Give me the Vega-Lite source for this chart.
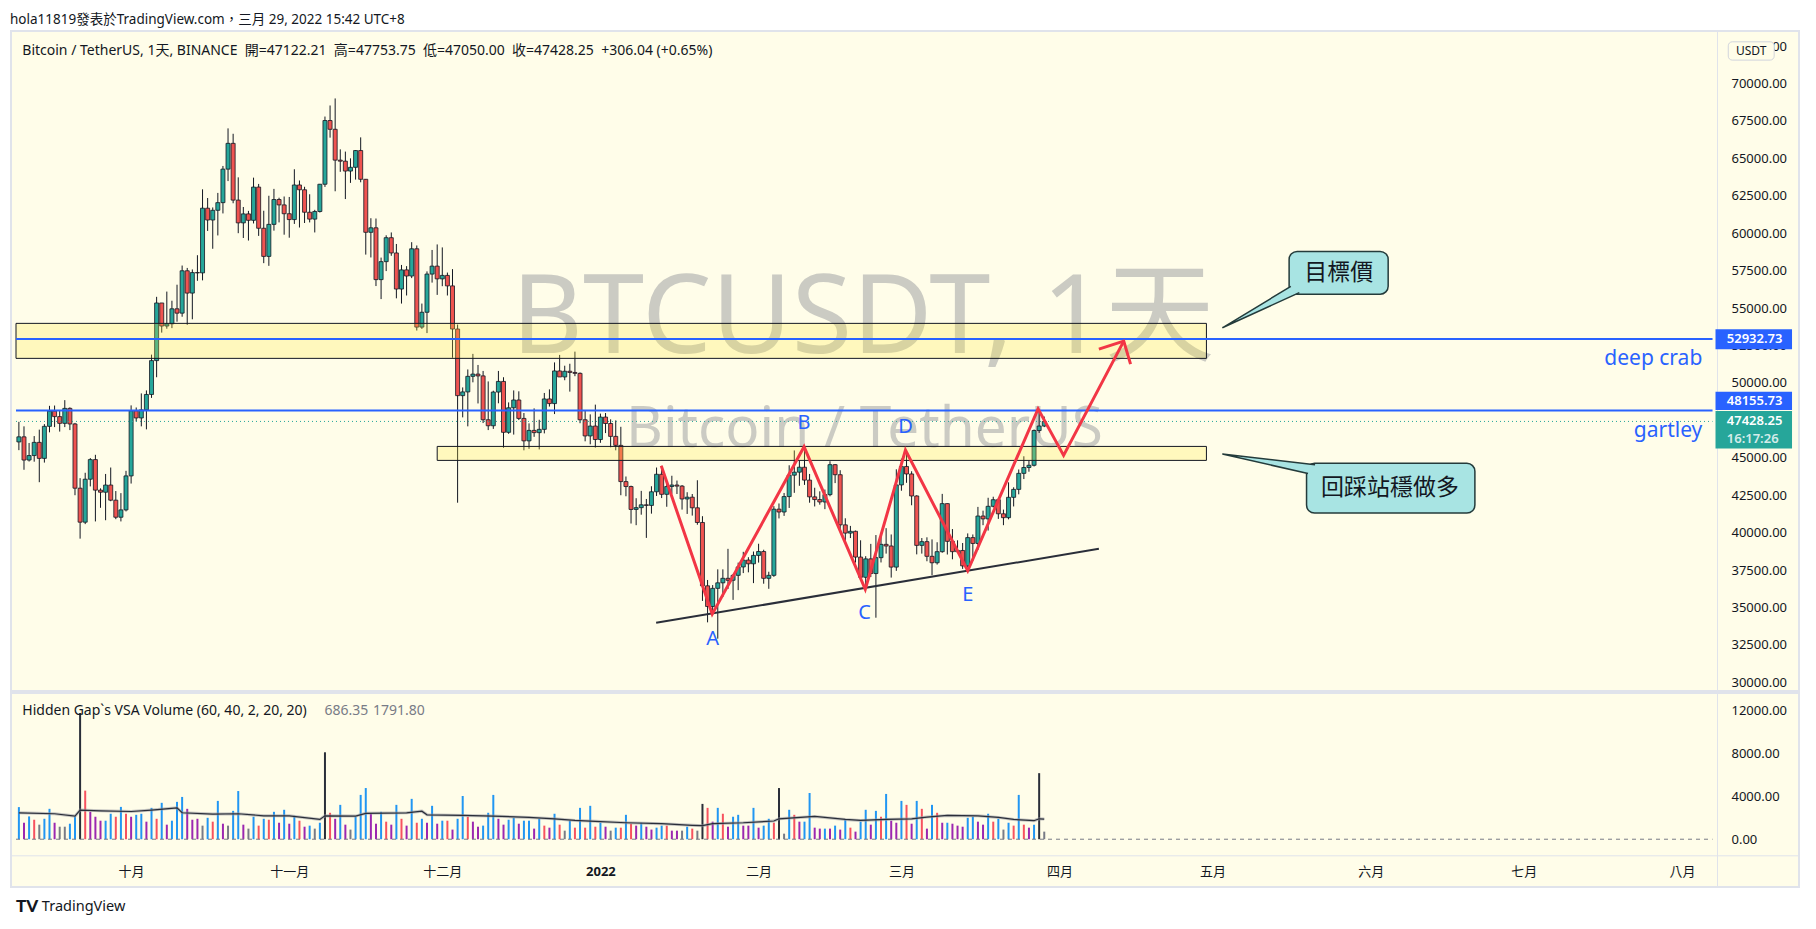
{
  "$schema": "https://vega.github.io/schema/vega-lite/v6.json",
  "background": "#ffffff",
  "padding": {"left": 10, "top": 12, "right": 16, "bottom": 0},
  "title": {"text": "hola11819發表於TradingView.com，三月 29, 2022 15:42 UTC+8", "anchor": "start", "fontSize": 13.5, "fontWeight": "normal", "color": "#131722", "font": "Noto Sans, Noto Sans CJK TC", "offset": 4},
  "spacing": 0,
  "resolve": {"scale": {"x": "independent", "y": "independent", "color": "independent"}},
  "config": {
    "font": "Noto Sans, Noto Sans CJK TC",
    "view": {"fill": "#fffde9", "stroke": "#e0e3eb", "strokeWidth": 2},
    "axis": {"labelFont": "Noto Sans", "labelColor": "#131722", "labelFontSize": 13, "ticks": false, "grid": false, "domainColor": "#e0e3eb", "domainWidth": 1, "labelOverlap": false, "labelBound": false}
  },
  "datasets": {
    "btc": [
      {"d":"2021-09-09","o":46060,"h":47400,"l":45510,"c":46400,"v":3000,"k":"bull"},
      {"d":"2021-09-10","o":46400,"h":47100,"l":44200,"c":44850,"v":1540,"k":"neutral"},
      {"d":"2021-09-11","o":44850,"h":45990,"l":44750,"c":45150,"v":2130,"k":"bull"},
      {"d":"2021-09-12","o":45150,"h":46450,"l":44740,"c":46030,"v":1820,"k":"bear"},
      {"d":"2021-09-13","o":46030,"h":46880,"l":43370,"c":44960,"v":1360,"k":"quiet"},
      {"d":"2021-09-14","o":44960,"h":47250,"l":44680,"c":47100,"v":1910,"k":"bull"},
      {"d":"2021-09-15","o":47100,"h":48470,"l":46700,"c":48120,"v":2840,"k":"bull"},
      {"d":"2021-09-16","o":48120,"h":48490,"l":47050,"c":47750,"v":1540,"k":"neutral"},
      {"d":"2021-09-17","o":47750,"h":48160,"l":46750,"c":47300,"v":1170,"k":"quiet"},
      {"d":"2021-09-18","o":47300,"h":48850,"l":47050,"c":48300,"v":1170,"k":"quiet"},
      {"d":"2021-09-19","o":48300,"h":48370,"l":46850,"c":47260,"v":1450,"k":"bull"},
      {"d":"2021-09-20","o":47260,"h":47330,"l":42500,"c":42970,"v":2130,"k":"bull"},
      {"d":"2021-09-21","o":42970,"h":43640,"l":39600,"c":40700,"v":11790,"k":"climax"},
      {"d":"2021-09-22","o":40700,"h":44000,"l":40570,"c":43570,"v":4540,"k":"bear"},
      {"d":"2021-09-23","o":43570,"h":44980,"l":43090,"c":44880,"v":2560,"k":"neutral"},
      {"d":"2021-09-24","o":44880,"h":45200,"l":40750,"c":42840,"v":2100,"k":"neutral"},
      {"d":"2021-09-25","o":42840,"h":42960,"l":41660,"c":42700,"v":1730,"k":"neutral"},
      {"d":"2021-09-26","o":42700,"h":43920,"l":40830,"c":43180,"v":1730,"k":"bull"},
      {"d":"2021-09-27","o":43180,"h":44350,"l":42100,"c":42170,"v":2380,"k":"bull"},
      {"d":"2021-09-28","o":42170,"h":42780,"l":40900,"c":41030,"v":2100,"k":"bear"},
      {"d":"2021-09-29","o":41030,"h":42640,"l":40750,"c":41520,"v":3020,"k":"bull"},
      {"d":"2021-09-30","o":41520,"h":44130,"l":41420,"c":43790,"v":2380,"k":"bear"},
      {"d":"2021-10-01","o":43790,"h":48500,"l":43280,"c":48140,"v":2100,"k":"neutral"},
      {"d":"2021-10-02","o":48140,"h":48360,"l":47420,"c":47660,"v":2280,"k":"bull"},
      {"d":"2021-10-03","o":47660,"h":49300,"l":47100,"c":48200,"v":2380,"k":"bull"},
      {"d":"2021-10-04","o":48200,"h":49500,"l":46900,"c":49230,"v":1640,"k":"neutral"},
      {"d":"2021-10-05","o":49230,"h":51890,"l":49000,"c":51490,"v":2930,"k":"bull"},
      {"d":"2021-10-06","o":51490,"h":55750,"l":50380,"c":55340,"v":1910,"k":"bear"},
      {"d":"2021-10-07","o":55340,"h":55340,"l":53360,"c":53800,"v":3400,"k":"bull"},
      {"d":"2021-10-08","o":53800,"h":56100,"l":53620,"c":53950,"v":1360,"k":"neutral"},
      {"d":"2021-10-09","o":53950,"h":55490,"l":53660,"c":54950,"v":1730,"k":"bull"},
      {"d":"2021-10-10","o":54950,"h":56560,"l":54090,"c":54660,"v":3490,"k":"bull"},
      {"d":"2021-10-11","o":54660,"h":57840,"l":54420,"c":57490,"v":3950,"k":"bull"},
      {"d":"2021-10-12","o":57490,"h":57680,"l":53880,"c":56000,"v":2840,"k":"neutral"},
      {"d":"2021-10-13","o":56000,"h":57580,"l":54250,"c":57370,"v":1820,"k":"neutral"},
      {"d":"2021-10-14","o":57370,"h":58530,"l":56820,"c":57350,"v":1910,"k":"neutral"},
      {"d":"2021-10-15","o":57350,"h":62930,"l":56850,"c":61670,"v":1270,"k":"quiet"},
      {"d":"2021-10-16","o":61670,"h":62350,"l":60150,"c":60880,"v":2000,"k":"bull"},
      {"d":"2021-10-17","o":60880,"h":61720,"l":58960,"c":61530,"v":1640,"k":"bear"},
      {"d":"2021-10-18","o":61530,"h":62690,"l":59850,"c":62040,"v":3580,"k":"bull"},
      {"d":"2021-10-19","o":62040,"h":64490,"l":61320,"c":64280,"v":1450,"k":"neutral"},
      {"d":"2021-10-20","o":64280,"h":67000,"l":63480,"c":66000,"v":1270,"k":"quiet"},
      {"d":"2021-10-21","o":66000,"h":66640,"l":62000,"c":62210,"v":2650,"k":"bull"},
      {"d":"2021-10-22","o":62210,"h":63730,"l":60000,"c":60690,"v":4500,"k":"bull"},
      {"d":"2021-10-23","o":60690,"h":61750,"l":59680,"c":61290,"v":1360,"k":"neutral"},
      {"d":"2021-10-24","o":61290,"h":61490,"l":59510,"c":60860,"v":990,"k":"quiet"},
      {"d":"2021-10-25","o":60860,"h":63710,"l":60650,"c":63080,"v":2100,"k":"bull"},
      {"d":"2021-10-26","o":63080,"h":63290,"l":59820,"c":60330,"v":1270,"k":"bear"},
      {"d":"2021-10-27","o":60330,"h":61500,"l":58000,"c":58450,"v":1910,"k":"bull"},
      {"d":"2021-10-28","o":58450,"h":62500,"l":57820,"c":60590,"v":1820,"k":"bear"},
      {"d":"2021-10-29","o":60590,"h":62960,"l":60170,"c":62250,"v":2560,"k":"bull"},
      {"d":"2021-10-30","o":62250,"h":62370,"l":60720,"c":61890,"v":1540,"k":"neutral"},
      {"d":"2021-10-31","o":61890,"h":62450,"l":59900,"c":61300,"v":2750,"k":"bull"},
      {"d":"2021-11-01","o":61300,"h":62420,"l":59700,"c":60910,"v":1450,"k":"neutral"},
      {"d":"2021-11-02","o":60910,"h":64270,"l":60620,"c":63220,"v":2190,"k":"bull"},
      {"d":"2021-11-03","o":63220,"h":63520,"l":60380,"c":62900,"v":1730,"k":"bear"},
      {"d":"2021-11-04","o":62900,"h":63100,"l":60680,"c":61400,"v":1170,"k":"neutral"},
      {"d":"2021-11-05","o":61400,"h":62600,"l":60720,"c":60940,"v":1270,"k":"bull"},
      {"d":"2021-11-06","o":60940,"h":61560,"l":60050,"c":61450,"v":990,"k":"quiet"},
      {"d":"2021-11-07","o":61450,"h":63290,"l":61380,"c":63270,"v":1540,"k":"bull"},
      {"d":"2021-11-08","o":63270,"h":67790,"l":63090,"c":67525,"v":8120,"k":"climax"},
      {"d":"2021-11-09","o":67525,"h":68530,"l":66380,"c":66940,"v":2470,"k":"bear"},
      {"d":"2021-11-10","o":66940,"h":69000,"l":62800,"c":64880,"v":1910,"k":"neutral"},
      {"d":"2021-11-11","o":64880,"h":65600,"l":64100,"c":64810,"v":3210,"k":"bull"},
      {"d":"2021-11-12","o":64810,"h":65450,"l":62280,"c":64150,"v":1360,"k":"neutral"},
      {"d":"2021-11-13","o":64150,"h":65000,"l":63360,"c":64400,"v":900,"k":"quiet"},
      {"d":"2021-11-14","o":64400,"h":65550,"l":63580,"c":65520,"v":2100,"k":"bull"},
      {"d":"2021-11-15","o":65520,"h":66400,"l":63400,"c":63600,"v":4140,"k":"bull"},
      {"d":"2021-11-16","o":63600,"h":63620,"l":58570,"c":60060,"v":4780,"k":"bull"},
      {"d":"2021-11-17","o":60060,"h":61000,"l":58380,"c":60360,"v":2420,"k":"neutral"},
      {"d":"2021-11-18","o":60360,"h":60980,"l":56470,"c":56900,"v":1450,"k":"neutral"},
      {"d":"2021-11-19","o":56900,"h":58370,"l":55600,"c":58100,"v":2560,"k":"bull"},
      {"d":"2021-11-20","o":58100,"h":59860,"l":57470,"c":59700,"v":1640,"k":"bear"},
      {"d":"2021-11-21","o":59700,"h":60050,"l":58490,"c":58680,"v":1360,"k":"neutral"},
      {"d":"2021-11-22","o":58680,"h":59280,"l":55650,"c":56270,"v":3210,"k":"bull"},
      {"d":"2021-11-23","o":56270,"h":57880,"l":55300,"c":57550,"v":1910,"k":"bear"},
      {"d":"2021-11-24","o":57550,"h":57800,"l":55840,"c":57140,"v":1270,"k":"neutral"},
      {"d":"2021-11-25","o":57140,"h":59400,"l":57000,"c":58960,"v":3770,"k":"bull"},
      {"d":"2021-11-26","o":58960,"h":59180,"l":53500,"c":53730,"v":1540,"k":"bear"},
      {"d":"2021-11-27","o":53730,"h":55300,"l":53610,"c":54720,"v":1910,"k":"bull"},
      {"d":"2021-11-28","o":54720,"h":57450,"l":53330,"c":57270,"v":1540,"k":"neutral"},
      {"d":"2021-11-29","o":57270,"h":58880,"l":56700,"c":57800,"v":3120,"k":"bull"},
      {"d":"2021-11-30","o":57800,"h":59250,"l":55880,"c":56950,"v":1450,"k":"neutral"},
      {"d":"2021-12-01","o":56950,"h":59050,"l":56460,"c":57180,"v":1730,"k":"bull"},
      {"d":"2021-12-02","o":57180,"h":57370,"l":55840,"c":56480,"v":1730,"k":"bear"},
      {"d":"2021-12-03","o":56480,"h":57600,"l":51680,"c":53600,"v":900,"k":"neutral"},
      {"d":"2021-12-04","o":53600,"h":53900,"l":42000,"c":49150,"v":1910,"k":"bull"},
      {"d":"2021-12-05","o":49150,"h":49700,"l":47700,"c":49400,"v":4040,"k":"bull"},
      {"d":"2021-12-06","o":49400,"h":50900,"l":47100,"c":50440,"v":2100,"k":"bear"},
      {"d":"2021-12-07","o":50440,"h":51940,"l":50040,"c":50590,"v":1640,"k":"neutral"},
      {"d":"2021-12-08","o":50590,"h":51200,"l":48630,"c":50470,"v":1170,"k":"neutral"},
      {"d":"2021-12-09","o":50470,"h":50800,"l":47320,"c":47540,"v":1270,"k":"bull"},
      {"d":"2021-12-10","o":47540,"h":50100,"l":46850,"c":47140,"v":2470,"k":"bull"},
      {"d":"2021-12-11","o":47140,"h":49480,"l":46930,"c":49390,"v":4140,"k":"bull"},
      {"d":"2021-12-12","o":49390,"h":50800,"l":48640,"c":50100,"v":1910,"k":"neutral"},
      {"d":"2021-12-13","o":50100,"h":50380,"l":45670,"c":46700,"v":1360,"k":"neutral"},
      {"d":"2021-12-14","o":46700,"h":48700,"l":46600,"c":48340,"v":1820,"k":"bull"},
      {"d":"2021-12-15","o":48340,"h":49500,"l":46550,"c":48860,"v":2000,"k":"bull"},
      {"d":"2021-12-16","o":48860,"h":49440,"l":47520,"c":47630,"v":1450,"k":"neutral"},
      {"d":"2021-12-17","o":47630,"h":47990,"l":45500,"c":46130,"v":1730,"k":"bull"},
      {"d":"2021-12-18","o":46130,"h":47300,"l":45600,"c":46830,"v":1730,"k":"bull"},
      {"d":"2021-12-19","o":46830,"h":48300,"l":46400,"c":46680,"v":990,"k":"neutral"},
      {"d":"2021-12-20","o":46680,"h":47540,"l":45560,"c":46900,"v":1910,"k":"bull"},
      {"d":"2021-12-21","o":46900,"h":49330,"l":46630,"c":48930,"v":1270,"k":"bear"},
      {"d":"2021-12-22","o":48930,"h":49570,"l":48420,"c":48620,"v":1080,"k":"neutral"},
      {"d":"2021-12-23","o":48620,"h":51370,"l":47920,"c":50800,"v":2380,"k":"bull"},
      {"d":"2021-12-24","o":50800,"h":51870,"l":50400,"c":50400,"v":1360,"k":"bear"},
      {"d":"2021-12-25","o":50400,"h":51150,"l":50180,"c":50780,"v":800,"k":"quiet"},
      {"d":"2021-12-26","o":50780,"h":51280,"l":49420,"c":50700,"v":1730,"k":"bull"},
      {"d":"2021-12-27","o":50700,"h":52090,"l":50450,"c":50640,"v":1080,"k":"bear"},
      {"d":"2021-12-28","o":50640,"h":50700,"l":47310,"c":47540,"v":2930,"k":"bull"},
      {"d":"2021-12-29","o":47540,"h":48140,"l":46100,"c":46460,"v":1080,"k":"bear"},
      {"d":"2021-12-30","o":46460,"h":47900,"l":45900,"c":47120,"v":3120,"k":"bull"},
      {"d":"2021-12-31","o":47120,"h":48550,"l":45680,"c":46220,"v":1170,"k":"bear"},
      {"d":"2022-01-01","o":46220,"h":47950,"l":46000,"c":47720,"v":1540,"k":"bull"},
      {"d":"2022-01-02","o":47720,"h":47990,"l":46650,"c":47290,"v":1170,"k":"neutral"},
      {"d":"2022-01-03","o":47290,"h":47570,"l":45700,"c":46430,"v":800,"k":"quiet"},
      {"d":"2022-01-04","o":46430,"h":47500,"l":45500,"c":45830,"v":1080,"k":"bull"},
      {"d":"2022-01-05","o":45830,"h":47070,"l":42500,"c":43410,"v":1080,"k":"bear"},
      {"d":"2022-01-06","o":43410,"h":43750,"l":42430,"c":43080,"v":2280,"k":"bull"},
      {"d":"2022-01-07","o":43080,"h":43140,"l":40610,"c":41550,"v":1450,"k":"bear"},
      {"d":"2022-01-08","o":41550,"h":42300,"l":40500,"c":41670,"v":1270,"k":"neutral"},
      {"d":"2022-01-09","o":41670,"h":42790,"l":41200,"c":41860,"v":1540,"k":"bull"},
      {"d":"2022-01-10","o":41860,"h":42250,"l":39650,"c":41820,"v":1170,"k":"neutral"},
      {"d":"2022-01-11","o":41820,"h":43100,"l":41270,"c":42730,"v":900,"k":"neutral"},
      {"d":"2022-01-12","o":42730,"h":44350,"l":42450,"c":43900,"v":1080,"k":"bull"},
      {"d":"2022-01-13","o":43900,"h":44460,"l":42310,"c":42560,"v":1270,"k":"bull"},
      {"d":"2022-01-14","o":42560,"h":43450,"l":41730,"c":43080,"v":1270,"k":"bear"},
      {"d":"2022-01-15","o":43080,"h":43800,"l":42600,"c":43180,"v":800,"k":"neutral"},
      {"d":"2022-01-16","o":43180,"h":43480,"l":42580,"c":43110,"v":800,"k":"neutral"},
      {"d":"2022-01-17","o":43110,"h":43180,"l":41540,"c":42250,"v":800,"k":"quiet"},
      {"d":"2022-01-18","o":42250,"h":42700,"l":41250,"c":42370,"v":1170,"k":"bull"},
      {"d":"2022-01-19","o":42370,"h":42580,"l":41140,"c":41660,"v":990,"k":"bear"},
      {"d":"2022-01-20","o":41660,"h":43500,"l":40530,"c":40680,"v":800,"k":"quiet"},
      {"d":"2022-01-21","o":40680,"h":41100,"l":35440,"c":36450,"v":3300,"k":"climax"},
      {"d":"2022-01-22","o":36450,"h":36840,"l":34010,"c":35070,"v":2930,"k":"bear"},
      {"d":"2022-01-23","o":35070,"h":36500,"l":34600,"c":36280,"v":1640,"k":"neutral"},
      {"d":"2022-01-24","o":36280,"h":37550,"l":32920,"c":36650,"v":2930,"k":"bull"},
      {"d":"2022-01-25","o":36650,"h":37550,"l":35700,"c":36950,"v":2380,"k":"bear"},
      {"d":"2022-01-26","o":36950,"h":38920,"l":36240,"c":36820,"v":1170,"k":"neutral"},
      {"d":"2022-01-27","o":36820,"h":37230,"l":35510,"c":37150,"v":2100,"k":"bull"},
      {"d":"2022-01-28","o":37150,"h":38000,"l":36160,"c":37710,"v":2280,"k":"bull"},
      {"d":"2022-01-29","o":37710,"h":38720,"l":37300,"c":38170,"v":1270,"k":"neutral"},
      {"d":"2022-01-30","o":38170,"h":38360,"l":37350,"c":37920,"v":1270,"k":"neutral"},
      {"d":"2022-01-31","o":37920,"h":38740,"l":36630,"c":38480,"v":2930,"k":"bull"},
      {"d":"2022-02-01","o":38480,"h":39260,"l":38000,"c":38740,"v":1080,"k":"neutral"},
      {"d":"2022-02-02","o":38740,"h":38860,"l":36590,"c":36950,"v":1270,"k":"bull"},
      {"d":"2022-02-03","o":36950,"h":37390,"l":36250,"c":37150,"v":1910,"k":"bull"},
      {"d":"2022-02-04","o":37150,"h":41770,"l":37050,"c":41570,"v":1540,"k":"bear"},
      {"d":"2022-02-05","o":41570,"h":41950,"l":40950,"c":41380,"v":4780,"k":"climax"},
      {"d":"2022-02-06","o":41380,"h":42650,"l":41120,"c":42410,"v":520,"k":"quiet"},
      {"d":"2022-02-07","o":42410,"h":44500,"l":41650,"c":43840,"v":2750,"k":"bull"},
      {"d":"2022-02-08","o":43840,"h":45490,"l":42660,"c":44040,"v":2280,"k":"bear"},
      {"d":"2022-02-09","o":44040,"h":44800,"l":43130,"c":44370,"v":1640,"k":"neutral"},
      {"d":"2022-02-10","o":44370,"h":45820,"l":43190,"c":43510,"v":1640,"k":"bull"},
      {"d":"2022-02-11","o":43510,"h":43920,"l":42000,"c":42390,"v":4320,"k":"bull"},
      {"d":"2022-02-12","o":42390,"h":43000,"l":41750,"c":42210,"v":1080,"k":"neutral"},
      {"d":"2022-02-13","o":42210,"h":42760,"l":41870,"c":42050,"v":990,"k":"neutral"},
      {"d":"2022-02-14","o":42050,"h":42880,"l":41570,"c":42540,"v":990,"k":"bull"},
      {"d":"2022-02-15","o":42540,"h":44770,"l":42430,"c":44540,"v":990,"k":"neutral"},
      {"d":"2022-02-16","o":44540,"h":44580,"l":43310,"c":43870,"v":1270,"k":"bull"},
      {"d":"2022-02-17","o":43870,"h":44170,"l":40070,"c":40520,"v":900,"k":"neutral"},
      {"d":"2022-02-18","o":40520,"h":40960,"l":39450,"c":39970,"v":1820,"k":"bull"},
      {"d":"2022-02-19","o":39970,"h":40450,"l":39640,"c":40090,"v":1080,"k":"bear"},
      {"d":"2022-02-20","o":40090,"h":40140,"l":38000,"c":38370,"v":710,"k":"neutral"},
      {"d":"2022-02-21","o":38370,"h":39490,"l":36810,"c":37020,"v":1640,"k":"bull"},
      {"d":"2022-02-22","o":37020,"h":38430,"l":36350,"c":38250,"v":2750,"k":"bull"},
      {"d":"2022-02-23","o":38250,"h":39250,"l":37040,"c":37270,"v":1360,"k":"neutral"},
      {"d":"2022-02-24","o":37270,"h":39840,"l":34320,"c":38330,"v":2650,"k":"bull"},
      {"d":"2022-02-25","o":38330,"h":39730,"l":38010,"c":39220,"v":2100,"k":"bear"},
      {"d":"2022-02-26","o":39220,"h":40300,"l":38600,"c":39110,"v":4230,"k":"bull"},
      {"d":"2022-02-27","o":39110,"h":39880,"l":37000,"c":37700,"v":1730,"k":"neutral"},
      {"d":"2022-02-28","o":37700,"h":44230,"l":37450,"c":43190,"v":1540,"k":"neutral"},
      {"d":"2022-03-01","o":43190,"h":44950,"l":42800,"c":44420,"v":3580,"k":"bull"},
      {"d":"2022-03-02","o":44420,"h":45400,"l":43330,"c":43920,"v":3210,"k":"bear"},
      {"d":"2022-03-03","o":43920,"h":44100,"l":41830,"c":42450,"v":1450,"k":"neutral"},
      {"d":"2022-03-04","o":42450,"h":42500,"l":38550,"c":39150,"v":3580,"k":"bull"},
      {"d":"2022-03-05","o":39150,"h":39640,"l":38600,"c":39400,"v":2840,"k":"bear"},
      {"d":"2022-03-06","o":39400,"h":39690,"l":38090,"c":38420,"v":990,"k":"neutral"},
      {"d":"2022-03-07","o":38420,"h":39550,"l":37160,"c":37990,"v":3210,"k":"bull"},
      {"d":"2022-03-08","o":37990,"h":39360,"l":37870,"c":38730,"v":2470,"k":"bear"},
      {"d":"2022-03-09","o":38730,"h":42590,"l":38660,"c":41940,"v":1540,"k":"neutral"},
      {"d":"2022-03-10","o":41940,"h":41950,"l":38540,"c":39420,"v":1540,"k":"bull"},
      {"d":"2022-03-11","o":39420,"h":40240,"l":38220,"c":38730,"v":1450,"k":"neutral"},
      {"d":"2022-03-12","o":38730,"h":39490,"l":38660,"c":38810,"v":1270,"k":"neutral"},
      {"d":"2022-03-13","o":38810,"h":39310,"l":37580,"c":37780,"v":1170,"k":"neutral"},
      {"d":"2022-03-14","o":37780,"h":39950,"l":37580,"c":39670,"v":2000,"k":"bull"},
      {"d":"2022-03-15","o":39670,"h":39880,"l":38120,"c":39280,"v":2100,"k":"bull"},
      {"d":"2022-03-16","o":39280,"h":41720,"l":38850,"c":41110,"v":1640,"k":"neutral"},
      {"d":"2022-03-17","o":41110,"h":41470,"l":40500,"c":40920,"v":1360,"k":"neutral"},
      {"d":"2022-03-18","o":40920,"h":42330,"l":40140,"c":41760,"v":2380,"k":"bull"},
      {"d":"2022-03-19","o":41760,"h":42400,"l":41680,"c":42200,"v":1640,"k":"bear"},
      {"d":"2022-03-20","o":42200,"h":42300,"l":40920,"c":41260,"v":1910,"k":"bull"},
      {"d":"2022-03-21","o":41260,"h":41540,"l":40500,"c":41000,"v":900,"k":"quiet"},
      {"d":"2022-03-22","o":41000,"h":43360,"l":40890,"c":42360,"v":1540,"k":"bull"},
      {"d":"2022-03-23","o":42360,"h":43030,"l":41750,"c":42890,"v":1270,"k":"bear"},
      {"d":"2022-03-24","o":42890,"h":44220,"l":42560,"c":43960,"v":4140,"k":"bull"},
      {"d":"2022-03-25","o":43960,"h":45100,"l":43580,"c":44350,"v":1360,"k":"bear"},
      {"d":"2022-03-26","o":44350,"h":44820,"l":44070,"c":44500,"v":1080,"k":"neutral"},
      {"d":"2022-03-27","o":44500,"h":46890,"l":44420,"c":46820,"v":1360,"k":"bull"},
      {"d":"2022-03-28","o":46820,"h":48190,"l":46660,"c":47122.21,"v":6170,"k":"climax"},
      {"d":"2022-03-29","o":47122.21,"h":47753.75,"l":47050,"c":47428.25,"v":710,"k":"quiet"}
    ],
    "vma": [
      {"d":"2021-09-09","v":2470},{"d":"2021-09-16","v":2380},{"d":"2021-09-20","v":2160},{"d":"2021-09-21","v":2720},
      {"d":"2021-09-25","v":2650},{"d":"2021-10-01","v":2590},{"d":"2021-10-05","v":2720},{"d":"2021-10-10","v":2930},
      {"d":"2021-10-11","v":2470},{"d":"2021-10-17","v":2350},{"d":"2021-10-22","v":2380},{"d":"2021-10-27","v":2190},
      {"d":"2021-11-01","v":2190},{"d":"2021-11-07","v":1850},{"d":"2021-11-08","v":2190},{"d":"2021-11-14","v":2160},
      {"d":"2021-11-16","v":2420},{"d":"2021-11-24","v":2470},{"d":"2021-11-27","v":2620},{"d":"2021-11-28","v":2280},
      {"d":"2021-12-05","v":2220},{"d":"2021-12-11","v":2160},{"d":"2021-12-18","v":2040},{"d":"2021-12-23","v":1910},
      {"d":"2021-12-27","v":1760},{"d":"2021-12-31","v":1670},{"d":"2022-01-06","v":1540},{"d":"2022-01-13","v":1450},
      {"d":"2022-01-19","v":1300},{"d":"2022-01-21","v":1270},{"d":"2022-01-23","v":1450},{"d":"2022-01-29","v":1540},
      {"d":"2022-02-04","v":1700},{"d":"2022-02-05","v":1910},{"d":"2022-02-12","v":2130},{"d":"2022-02-18","v":1850},
      {"d":"2022-02-21","v":1760},{"d":"2022-02-26","v":1850},{"d":"2022-03-03","v":1910},{"d":"2022-03-06","v":2070},
      {"d":"2022-03-10","v":2220},{"d":"2022-03-16","v":2190},{"d":"2022-03-20","v":2040},{"d":"2022-03-23","v":1850},
      {"d":"2022-03-27","v":1730},{"d":"2022-03-28","v":1910},{"d":"2022-03-29","v":1880}
    ]
  },
  "vconcat": [
    {
      "width": 1788,
      "height": 660,
      "layer": [
        {
          "data": {"values": [{"d": "2022-02-21T12:00:00Z", "p": 51992, "label": "BTCUSDT, 1天"}]},
          "mark": {"type": "text", "fontSize": 110, "baseline": "alphabetic", "align": "center", "color": "#787b86", "opacity": 0.38, "font": "Noto Sans, Noto Sans CJK TC"},
          "encoding": {
            "x": {"field": "d", "type": "temporal", "scale": {"type": "utc", "nice": false, "domain": [{"year": 2021, "month": 9, "date": 8, "hours": 10, "minutes": 26, "utc": true}, {"year": 2022, "month": 8, "date": 22, "hours": 23, "minutes": 17, "utc": true}]}, "axis": null},
            "y": {"field": "p", "type": "quantitative", "scale": {"domain": [29425, 73504], "nice": false, "zero": false},
                  "axis": {"orient": "right", "offset": -82, "title": null, "values": [30000, 32500, 35000, 37500, 40000, 42500, 45000, 47500, 50000, 52500, 55000, 57500, 60000, 62500, 65000, 67500, 70000, 72500], "tickCount": 18, "format": ".2f", "labelPadding": 14, "labelOverlap": false}},
            "text": {"field": "label"}
          }
        },
        {
          "data": {"values": [{"d": "2022-02-21T18:00:00Z", "p": 45735, "label": "Bitcoin / TetherUS"}]},
          "mark": {"type": "text", "fontSize": 56.7, "baseline": "alphabetic", "align": "center", "color": "#787b86", "opacity": 0.38},
          "encoding": {
            "x": {"field": "d", "type": "temporal", "axis": null},
            "y": {"field": "p", "type": "quantitative", "axis": {"orient": "right", "offset": -82, "title": null, "values": [30000, 32500, 35000, 37500, 40000, 42500, 45000, 47500, 50000, 52500, 55000, 57500, 60000, 62500, 65000, 67500, 70000, 72500], "tickCount": 18, "format": ".2f", "labelPadding": 14, "labelOverlap": false}},
            "text": {"field": "label"}
          }
        },
        {
          "data": {"name": "btc"},
          "mark": {"type": "rule", "color": "#131722", "strokeWidth": 1},
          "encoding": {
            "x": {"field": "d", "type": "temporal", "axis": null},
            "y": {"field": "l", "type": "quantitative", "axis": {"orient": "right", "offset": -82, "title": null, "values": [30000, 32500, 35000, 37500, 40000, 42500, 45000, 47500, 50000, 52500, 55000, 57500, 60000, 62500, 65000, 67500, 70000, 72500], "tickCount": 18, "format": ".2f", "labelPadding": 14, "labelOverlap": false}},
            "y2": {"field": "h"}
          }
        },
        {
          "data": {"name": "btc"},
          "mark": {"type": "bar", "width": 4, "stroke": "#131722", "strokeWidth": 0.8},
          "encoding": {
            "x": {"field": "d", "type": "temporal", "axis": null},
            "y": {"field": "o", "type": "quantitative"},
            "y2": {"field": "c"},
            "fill": {"condition": {"test": "datum.c >= datum.o", "value": "#26a69a"}, "value": "#ef5350"}
          }
        },
        {
          "data": {"values": [
            {"d1": "2021-09-08T10:26:00Z", "d2": "2022-04-29T19:00:00Z", "p1": 53978, "p2": 51640},
            {"d1": "2021-11-30T00:00:00Z", "d2": "2022-04-29T19:00:00Z", "p1": 45760, "p2": 44826}
          ]},
          "mark": {"type": "rect", "fill": "#ffeb3b", "fillOpacity": 0.25, "stroke": "#131722", "strokeWidth": 1},
          "encoding": {
            "x": {"field": "d1", "type": "temporal", "axis": null},
            "x2": {"field": "d2"},
            "y": {"field": "p1", "type": "quantitative"},
            "y2": {"field": "p2"}
          }
        },
        {
          "data": {"values": [
            {"d1": "2021-09-08T10:26:00Z", "d2": "2022-08-07T00:00:00Z", "p": 52932.73},
            {"d1": "2021-09-08T10:26:00Z", "d2": "2022-08-07T00:00:00Z", "p": 48155.73}
          ]},
          "mark": {"type": "rule", "color": "#2962ff", "strokeWidth": 2},
          "encoding": {
            "x": {"field": "d1", "type": "temporal", "axis": null},
            "x2": {"field": "d2"},
            "y": {"field": "p", "type": "quantitative"}
          }
        },
        {
          "data": {"values": [{"d1": "2021-09-08T10:26:00Z", "d2": "2022-08-07T00:00:00Z", "p": 47428.25}]},
          "mark": {"type": "rule", "color": "#26a69a", "strokeWidth": 1, "strokeDash": [1, 3]},
          "encoding": {
            "x": {"field": "d1", "type": "temporal", "axis": null},
            "x2": {"field": "d2"},
            "y": {"field": "p", "type": "quantitative"}
          }
        },
        {
          "data": {"values": [{"d": "2022-01-11T22:00:00Z", "p": 33979}, {"d": "2022-04-08T17:00:00Z", "p": 38922}]},
          "mark": {"type": "line", "color": "#2a2e39", "strokeWidth": 2},
          "encoding": {
            "x": {"field": "d", "type": "temporal", "axis": null},
            "y": {"field": "p", "type": "quantitative"}
          }
        },
        {
          "data": {"values": [
            {"i": 0, "d": "2022-01-12T22:00:00Z", "p": 44466},
            {"i": 1, "d": "2022-01-22T22:00:00Z", "p": 34561},
            {"i": 2, "d": "2022-02-09T22:00:00Z", "p": 45735},
            {"i": 3, "d": "2022-02-21T22:00:00Z", "p": 36211},
            {"i": 4, "d": "2022-03-01T19:00:00Z", "p": 45514},
            {"i": 5, "d": "2022-03-14T00:00:00Z", "p": 37453},
            {"i": 6, "d": "2022-03-27T19:00:00Z", "p": 48273},
            {"i": 7, "d": "2022-04-01T19:00:00Z", "p": 45160},
            {"i": 8, "d": "2022-04-13T14:00:00Z", "p": 52793}
          ]},
          "mark": {"type": "line", "color": "#f23645", "strokeWidth": 3, "strokeJoin": "miter", "strokeCap": "butt"},
          "encoding": {
            "x": {"field": "d", "type": "temporal", "axis": null},
            "y": {"field": "p", "type": "quantitative"},
            "order": {"field": "i"}
          }
        },
        {
          "data": {"values": [
            {"i": 0, "d": "2022-04-08T17:00:00Z", "p": 52260},
            {"i": 1, "d": "2022-04-13T14:00:00Z", "p": 52793},
            {"i": 2, "d": "2022-04-14T22:00:00Z", "p": 51258}
          ]},
          "mark": {"type": "line", "color": "#f23645", "strokeWidth": 3, "strokeJoin": "miter"},
          "encoding": {
            "x": {"field": "d", "type": "temporal", "axis": null},
            "y": {"field": "p", "type": "quantitative"},
            "order": {"field": "i"}
          }
        },
        {
          "data": {"values": [
            {"d": "2022-01-23T00:00:00Z", "p": 32871, "label": "A"},
            {"d": "2022-02-09T22:00:00Z", "p": 47297, "label": "B"},
            {"d": "2022-02-21T19:00:00Z", "p": 34648, "label": "C"},
            {"d": "2022-03-01T19:00:00Z", "p": 47070, "label": "D"},
            {"d": "2022-03-14T00:00:00Z", "p": 35830, "label": "E"}
          ]},
          "mark": {"type": "text", "fontSize": 20, "color": "#2962ff"},
          "encoding": {
            "x": {"field": "d", "type": "temporal", "axis": null},
            "y": {"field": "p", "type": "quantitative"},
            "text": {"field": "label"}
          }
        },
        {
          "data": {"values": [
            {"d": "2022-08-05T00:00:00Z", "p": 51592, "label": "deep crab"},
            {"d": "2022-08-05T00:00:00Z", "p": 46783, "label": "gartley"}
          ]},
          "mark": {"type": "text", "fontSize": 21, "color": "#2962ff", "align": "right"},
          "encoding": {
            "x": {"field": "d", "type": "temporal", "axis": null},
            "y": {"field": "p", "type": "quantitative"},
            "text": {"field": "label"}
          }
        },
        {
          "data": {"values": [
            {"d1": "2022-05-16T00:00:00Z", "d2": "2022-06-04T10:00:00Z", "p1": 58785, "p2": 55926},
            {"d1": "2022-05-19T10:00:00Z", "d2": "2022-06-21T10:00:00Z", "p1": 44633, "p2": 41307}
          ]},
          "mark": {"type": "rect", "fill": "#a8e4e3", "stroke": "#243b3b", "strokeWidth": 1.5, "cornerRadius": 8},
          "encoding": {
            "x": {"field": "d1", "type": "temporal", "axis": null},
            "x2": {"field": "d2"},
            "y": {"field": "p1", "type": "quantitative"},
            "y2": {"field": "p2"}
          }
        },
        {
          "data": {"values": [
            {"id": "target", "i": 0, "d": "2022-05-16T08:00:00Z", "p": 56447},
            {"id": "target", "i": 1, "d": "2022-05-02T22:00:00Z", "p": 53682},
            {"id": "target", "i": 2, "d": "2022-05-18T00:00:00Z", "p": 56033},
            {"id": "long", "i": 0, "d": "2022-05-21T02:00:00Z", "p": 44532},
            {"id": "long", "i": 1, "d": "2022-05-02T22:00:00Z", "p": 45247},
            {"id": "long", "i": 2, "d": "2022-05-19T17:00:00Z", "p": 43951}
          ]},
          "mark": {"type": "line", "fill": "#a8e4e3", "stroke": "#243b3b", "strokeWidth": 1.5, "strokeJoin": "miter"},
          "encoding": {
            "x": {"field": "d", "type": "temporal", "axis": null},
            "y": {"field": "p", "type": "quantitative"},
            "detail": {"field": "id"},
            "order": {"field": "i"}
          }
        },
        {
          "data": {"values": [
            {"d": "2022-05-25T17:00:00Z", "p": 57356, "label": "目標價"},
            {"d": "2022-06-04T19:00:00Z", "p": 42976, "label": "回踩站穩做多"}
          ]},
          "mark": {"type": "text", "fontSize": 23, "color": "#131722", "font": "Noto Sans CJK TC"},
          "encoding": {
            "x": {"field": "d", "type": "temporal", "axis": null},
            "y": {"field": "p", "type": "quantitative"},
            "text": {"field": "label"}
          }
        },
        {
          "data": {"values": [
            {"kind": "level", "d1": "2022-08-07T14:00:00Z", "d2": "2022-08-22T14:00:00Z", "p1": 53584, "p2": 52241},
            {"kind": "level", "d1": "2022-08-07T14:00:00Z", "d2": "2022-08-22T14:00:00Z", "p1": 49409, "p2": 48186},
            {"kind": "last", "d1": "2022-08-07T14:00:00Z", "d2": "2022-08-22T14:00:00Z", "p1": 48120, "p2": 45628}
          ]},
          "mark": {"type": "rect"},
          "encoding": {
            "x": {"field": "d1", "type": "temporal", "axis": null},
            "x2": {"field": "d2"},
            "y": {"field": "p1", "type": "quantitative"},
            "y2": {"field": "p2"},
            "color": {"field": "kind", "type": "nominal", "scale": {"domain": ["level", "last"], "range": ["#2962ff", "#26a69a"]}, "legend": null}
          }
        },
        {
          "data": {"values": [
            {"d": "2022-08-09T19:00:00Z", "p": 52932.73, "label": "52932.73"},
            {"d": "2022-08-09T19:00:00Z", "p": 48787, "label": "48155.73"},
            {"d": "2022-08-09T19:00:00Z", "p": 47484, "label": "47428.25"}
          ]},
          "mark": {"type": "text", "fontSize": 13, "color": "#ffffff", "align": "left", "fontWeight": 600},
          "encoding": {
            "x": {"field": "d", "type": "temporal", "axis": null},
            "y": {"field": "p", "type": "quantitative"},
            "text": {"field": "label"}
          }
        },
        {
          "data": {"values": [{"d": "2022-08-09T19:00:00Z", "p": 46282, "label": "16:17:26"}]},
          "mark": {"type": "text", "fontSize": 13, "color": "#ffffff", "opacity": 0.8, "align": "left", "fontWeight": 600},
          "encoding": {
            "x": {"field": "d", "type": "temporal", "axis": null},
            "y": {"field": "p", "type": "quantitative"},
            "text": {"field": "label"}
          }
        },
        {
          "data": {"values": [{"d1": "2022-08-10T02:00:00Z", "d2": "2022-08-19T02:00:00Z", "p1": 72782, "p2": 71560}]},
          "mark": {"type": "rect", "fill": "#fffde9", "stroke": "#d1d4dc", "strokeWidth": 1, "cornerRadius": 4},
          "encoding": {
            "x": {"field": "d1", "type": "temporal", "axis": null},
            "x2": {"field": "d2"},
            "y": {"field": "p1", "type": "quantitative"},
            "y2": {"field": "p2"}
          }
        },
        {
          "data": {"values": [{"d": "2022-08-14T14:00:00Z", "p": 72162, "label": "USDT"}]},
          "mark": {"type": "text", "fontSize": 12, "color": "#131722"},
          "encoding": {
            "x": {"field": "d", "type": "temporal", "axis": null},
            "y": {"field": "p", "type": "quantitative"},
            "text": {"field": "label"}
          }
        },
        {
          "data": {"values": [{"d": "2021-09-09T16:00:00Z", "p": 72162, "label": "Bitcoin / TetherUS, 1天, BINANCE \u00a0開=47122.21 \u00a0高=47753.75 \u00a0低=47050.00 \u00a0收=47428.25 \u00a0+306.04 (+0.65%)"}]},
          "mark": {"type": "text", "fontSize": 14, "color": "#131722", "align": "left"},
          "encoding": {
            "x": {"field": "d", "type": "temporal", "axis": null},
            "y": {"field": "p", "type": "quantitative"},
            "text": {"field": "label"}
          }
        }
      ]
    },
    {
      "width": 1788,
      "height": 194,
      "layer": [
        {
          "data": {"name": "btc"},
          "mark": {"type": "bar", "width": 2},
          "encoding": {
            "x": {"field": "d", "type": "temporal",
                  "scale": {"type": "utc", "nice": false, "domain": [{"year": 2021, "month": 9, "date": 8, "hours": 10, "minutes": 26, "utc": true}, {"year": 2022, "month": 8, "date": 22, "hours": 23, "minutes": 17, "utc": true}]},
                  "axis": {"orient": "bottom", "offset": -31.7, "title": null, "labelPadding": 10, "labelFlush": false, "labelOverlap": false,
                           "values": [{"year": 2021, "month": 10, "date": 1, "utc": true}, {"year": 2021, "month": 11, "date": 1, "utc": true}, {"year": 2021, "month": 12, "date": 1, "utc": true}, {"year": 2022, "month": 1, "date": 1, "utc": true}, {"year": 2022, "month": 2, "date": 1, "utc": true}, {"year": 2022, "month": 3, "date": 1, "utc": true}, {"year": 2022, "month": 4, "date": 1, "utc": true}, {"year": 2022, "month": 5, "date": 1, "utc": true}, {"year": 2022, "month": 6, "date": 1, "utc": true}, {"year": 2022, "month": 7, "date": 1, "utc": true}, {"year": 2022, "month": 8, "date": 1, "utc": true}],
                           "labelExpr": "utcmonth(datum.value) == 0 ? '' + utcyear(datum.value) : ['一月','二月','三月','四月','五月','六月','七月','八月','九月','十月','十一月','十二月'][utcmonth(datum.value)]",
                           "labelFont": "Noto Sans, Noto Sans CJK TC",
                           "labelFontWeight": {"condition": {"test": "utcmonth(datum.value) == 0", "value": "bold"}, "value": "normal"}}},
            "y": {"field": "v", "type": "quantitative", "scale": {"domain": [-4461, 13656], "nice": false, "zero": false},
                  "axis": {"orient": "right", "offset": -82, "title": null, "values": [0, 4000, 8000, 12000], "format": ".2f", "labelPadding": 14}},
            "y2": {"datum": 0},
            "color": {"field": "k", "type": "nominal", "scale": {"domain": ["bull", "bear", "neutral", "quiet", "climax"], "range": ["#2196f3", "#f7525f", "#9c27b0", "#787b86", "#2a2e39"]}, "legend": null}
          }
        },
        {
          "data": {"values": [{"d1": "2021-09-08T10:26:00Z", "d2": "2022-08-07T00:00:00Z", "v": 0}]},
          "mark": {"type": "rule", "color": "#787b86", "strokeWidth": 1, "strokeDash": [4, 4]},
          "encoding": {
            "x": {"field": "d1", "type": "temporal"},
            "x2": {"field": "d2"},
            "y": {"field": "v", "type": "quantitative"}
          }
        },
        {
          "data": {"name": "vma"},
          "mark": {"type": "line", "color": "#9598a1", "strokeWidth": 3, "opacity": 0.55},
          "encoding": {
            "x": {"field": "d", "type": "temporal"},
            "y": {"field": "v", "type": "quantitative"}
          }
        },
        {
          "data": {"name": "vma"},
          "mark": {"type": "line", "color": "#2a2e39", "strokeWidth": 1.2},
          "encoding": {
            "x": {"field": "d", "type": "temporal"},
            "y": {"field": "v", "type": "quantitative"}
          }
        },
        {
          "data": {"values": [{"d": "2021-09-09T16:00:00Z", "v": 11981, "label": "Hidden Gap`s VSA Volume (60, 40, 2, 20, 20)"}]},
          "mark": {"type": "text", "fontSize": 14, "color": "#131722", "align": "left"},
          "encoding": {
            "x": {"field": "d", "type": "temporal"},
            "y": {"field": "v", "type": "quantitative"},
            "text": {"field": "label"}
          }
        },
        {
          "data": {"values": [
            {"d": "2021-11-07T22:00:00Z", "v": 11981, "label": "686.35"},
            {"d": "2021-11-17T10:00:00Z", "v": 11981, "label": "1791.80"}
          ]},
          "mark": {"type": "text", "fontSize": 14, "color": "#787b86", "align": "left"},
          "encoding": {
            "x": {"field": "d", "type": "temporal"},
            "y": {"field": "v", "type": "quantitative"},
            "text": {"field": "label"}
          }
        },
        {
          "data": {"values": [{"d": "2021-09-08T10:30:00Z", "v": -6350, "label": "TV"}]},
          "mark": {"type": "text", "fontSize": 17, "fontWeight": 900, "color": "#131722", "align": "left", "font": "Lato"},
          "encoding": {
            "x": {"field": "d", "type": "temporal"},
            "y": {"field": "v", "type": "quantitative"},
            "text": {"field": "label"}
          }
        },
        {
          "data": {"values": [{"d": "2021-09-13T12:00:00Z", "v": -6350, "label": "TradingView"}]},
          "mark": {"type": "text", "fontSize": 14.5, "color": "#131722", "align": "left"},
          "encoding": {
            "x": {"field": "d", "type": "temporal"},
            "y": {"field": "v", "type": "quantitative"},
            "text": {"field": "label"}
          }
        }
      ]
    }
  ]
}
